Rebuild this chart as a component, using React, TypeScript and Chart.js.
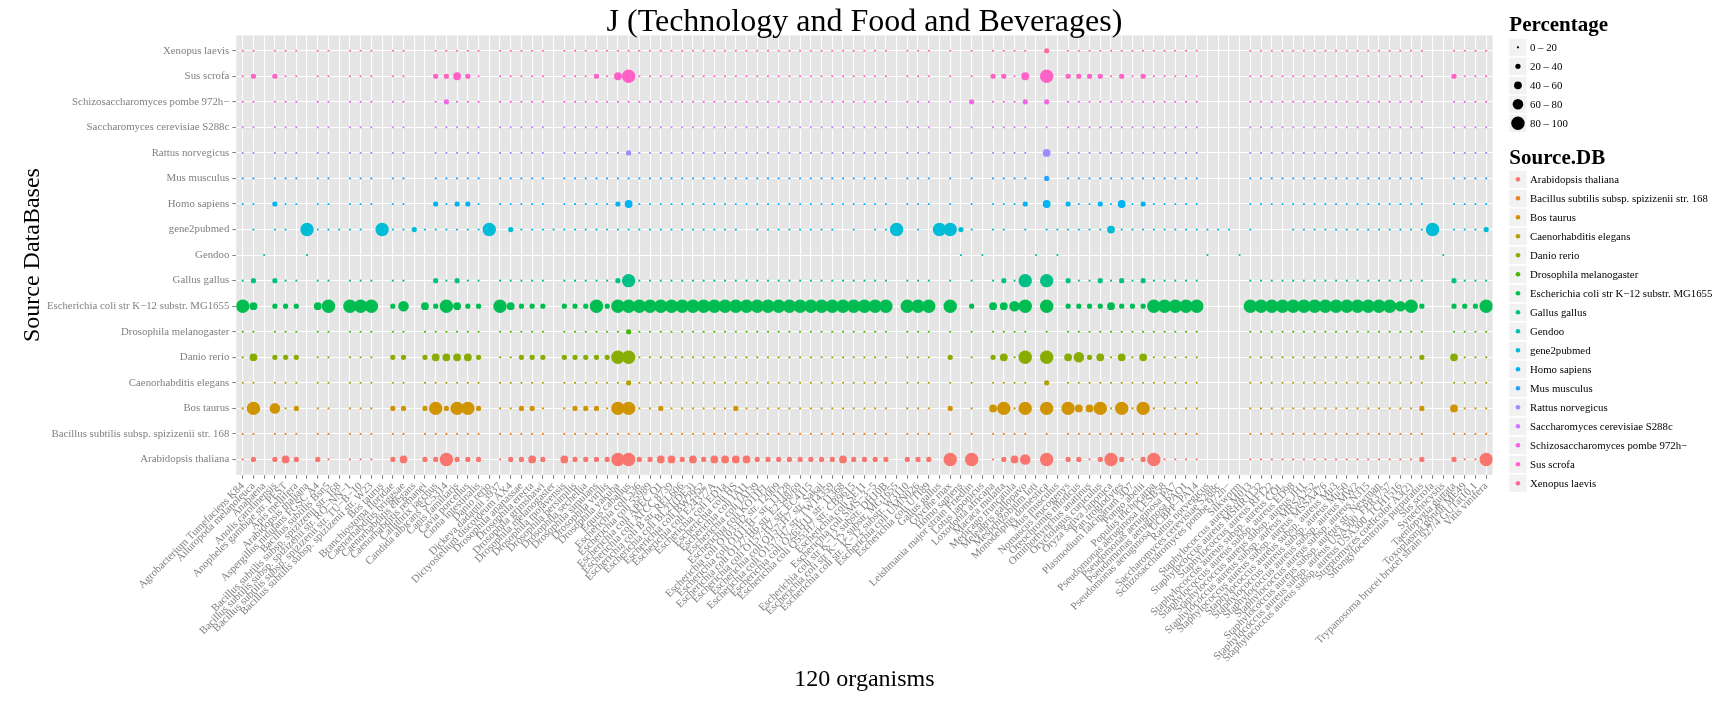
import React, { useEffect, useRef } from 'react';
import { Chart, registerables } from 'chart.js';
Chart.register(...registerables);

const _ = null;

const TITLE = 'J (Technology and Food and Beverages)';
const X_TITLE = '120 organisms';
const Y_TITLE = 'Source DataBases';
const SIZE_TITLE = 'Percentage';
const COLOR_TITLE = 'Source.DB';
const SIZE_LABELS = ['0 – 20', '20 – 40', '40 – 60', '60 – 80', '80 – 100'];

const ORGANISMS = [
  'Agrobacterium Tumefaciens K84', 'Ailuropoda melanoleuca', 'Anabaena', 'Anolis carolinensis',
  'Anopheles gambiae str. PEST', 'Apis mellifera', 'Arabidopsis thaliana', 'Aspergillus nidulans FGSC A4',
  'Bacillus subtilis Bsn5', 'Bacillus subtilis subsp. spizizenii str. 168',
  'Bacillus subtilis subsp. spizizenii str. RO−NN−1', 'Bacillus subtilis subsp. spizizenii str. TU−B−10',
  'Bacillus subtilis subsp. spizizenii str. W23', 'Bos taurus', 'Branchiostoma floridae',
  'Caenorhabditis briggsae', 'Caenorhabditis elegans', 'Caenorhabditis remanei', 'Callithrix jacchus',
  'Candida albicans SC5314', 'Canis familiaris', 'Cavia porcellus', 'Ciona intestinalis', 'Danio rerio',
  'Dickeya dadantii 3937', 'Dictyostelium discoideum AX4', 'Drosophila ananassae', 'Drosophila erecta',
  'Drosophila grimshawi', 'Drosophila melanogaster', 'Drosophila mojavensis', 'Drosophila persimilis',
  'Drosophila sechellia', 'Drosophila simulans', 'Drosophila virilis', 'Drosophila yakuba', 'Equus caballus',
  'Escherichia coli 536', 'Escherichia coli 55989', 'Escherichia coli APEC O1', 'Escherichia coli ATCC 8739',
  'Escherichia coli B str. REL606', 'Escherichia coli BL21(DE3)', 'Escherichia coli BW2952',
  'Escherichia coli E24377A', 'Escherichia coli ED1a', 'Escherichia coli HS', 'Escherichia coli IAI1',
  'Escherichia coli IAI39', 'Escherichia coli KO11FL', 'Escherichia coli O103:H2 str. 12009',
  'Escherichia coli O111:H− str. 11128', 'Escherichia coli O127:H6 str. E2348/69',
  'Escherichia coli O157:H7 str. EC4115', 'Escherichia coli O157:H7 str. Sakai',
  'Escherichia coli O157:H7 str. TW14359', 'Escherichia coli O26:H11 str. 11368',
  'Escherichia coli O55:H7 str. CB9615', 'Escherichia coli SE11', 'Escherichia coli SMS−3−5',
  'Escherichia coli str K−12 substr. DH10B', 'Escherichia coli str K−12 substr. MG1655',
  'Escherichia coli str. K−12 substr. W3110', 'Escherichia coli UMN026', 'Escherichia coli UTI89',
  'Gallus gallus', 'Glycine max', 'Homo sapiens', 'Leishmania major strain Friedlin', 'Lotus japonicus',
  'Loxodonta africana', 'Macaca mulatta', 'Medicago truncatula', 'Meleagris gallopavo', 'Mesorhizobium loti',
  'Monodelphis domestica', 'Mus musculus', 'Nomascus leucogenys', 'Oreochromis niloticus',
  'Ornithorhynchus anatinus', 'Oryctolagus cuniculus', 'Oryza sativa Japonica', 'Pan troglodytes',
  'Plasmodium falciparum 3D7', 'Pongo abelii', 'Populus trichocarpa', 'Pseudomonas aeruginosa LESB58',
  'Pseudomonas aeruginosa PA7', 'Pseudomonas aeruginosa PAO1', 'Pseudomonas aeruginosa UCBPP−PA14',
  'Rattus norvegicus', 'Saccharomyces cerevisiae S288c', 'Schizosaccharomyces pombe 972h−', 'Silkworm',
  'Staphylococcus aureus M013', 'Staphylococcus aureus MSHR1132', 'Staphylococcus aureus RF122',
  'Staphylococcus aureus subsp. aureus COL', 'Staphylococcus aureus subsp. aureus ED98',
  'Staphylococcus aureus subsp. aureus JH1', 'Staphylococcus aureus subsp. aureus MRSA252',
  'Staphylococcus aureus subsp. aureus MSSA476', 'Staphylococcus aureus subsp. aureus Mu3',
  'Staphylococcus aureus subsp. aureus Mu50', 'Staphylococcus aureus subsp. aureus MW2',
  'Staphylococcus aureus subsp. aureus N315', 'Staphylococcus aureus subsp. aureus str. Newman',
  'Staphylococcus aureus subsp. aureus USA300_FPR3757', 'Staphylococcus aureus subsp. aureus USA300_TCH1516',
  'Streptomyces coelicolor A3(2)', 'Strongylocentrotus purpuratus', 'Sus scrofa', 'Synechocystis',
  'Taeniopygia guttata', 'Toxoplasma gondii ME49', 'Trypanosoma brucei brucei strain 927/4 GUTat10.1',
  'Vitis vinifera',
];

const SOURCES = [
  'Arabidopsis thaliana', 'Bacillus subtilis subsp. spizizenii str. 168', 'Bos taurus',
  'Caenorhabditis elegans', 'Danio rerio', 'Drosophila melanogaster',
  'Escherichia coli str K−12 substr. MG1655', 'Gallus gallus', 'Gendoo', 'gene2pubmed', 'Homo sapiens',
  'Mus musculus', 'Rattus norvegicus', 'Saccharomyces cerevisiae S288c', 'Schizosaccharomyces pombe 972h−',
  'Sus scrofa', 'Xenopus laevis',
];

// percentage per organism (117 columns), one array per source DB
const arabidopsisThaliana = [
  5, 30, _, 30, 50, 30, _, 30, 5, _,
  5, 5, 5, _, 30, 50, _, 30, 30, 90,
  30, 30, 30, _, 5, 30, 30, 50, 30, _,
  50, 30, 30, 30, 30, 90, 90, 30, 30, 50,
  50, 30, 50, 30, 50, 50, 50, 50, 30, 30,
  30, 30, 30, 30, 30, 30, 50, 30, 30, 30,
  30, _, 30, 30, 30, _, 90, _, 90, _,
  5, 30, 50, 60, _, 90, _, 30, 30, 5,
  30, 90, 30, 5, 30, 90, 5, 5, 5, 5,
  _, _, _, _, 5, 5, 5, 5, 5, 5,
  5, 5, 5, 5, 5, 5, 5, 5, 5, 5,
  30, _, _, 30, 5, 5, 90,
];
const bacillusSubtilis = [
  5, 5, _, 5, 5, 5, _, 5, 5, _,
  5, 5, 5, _, 5, 5, _, 5, 5, 5,
  5, 5, 5, _, 5, 5, 5, 5, 5, _,
  5, 5, 5, 5, 5, 5, 5, 5, 5, 5,
  5, 5, 5, 5, 5, 5, 5, 5, 5, 5,
  5, 5, 5, 5, 5, 5, 5, 5, 5, 5,
  5, _, 5, 5, 5, _, 5, _, 5, _,
  5, 5, 5, 5, _, 5, _, 5, 5, 5,
  5, 5, 5, 5, 5, 5, 5, 5, 5, 5,
  _, _, _, _, 5, 5, 5, 5, 5, 5,
  5, 5, 5, 5, 5, 5, 5, 5, 5, 5,
  5, _, _, 5, 5, 5, 5,
];
const bosTaurus = [
  5, 90, _, 70, 5, 30, _, 5, 5, _,
  5, 5, 5, _, 30, 30, _, 30, 90, 30,
  90, 90, 30, _, 5, 5, 30, 30, 5, _,
  5, 30, 30, 30, 5, 90, 90, 5, 5, 30,
  5, 5, 5, 5, 5, 5, 30, 5, 5, 5,
  5, 5, 5, 5, 5, 5, 5, 5, 5, 5,
  5, _, 5, 5, 5, _, 30, _, 5, _,
  50, 90, 5, 90, _, 90, _, 90, 50, 50,
  90, 5, 90, 5, 90, 5, 5, 5, 5, 5,
  _, _, _, _, 5, 5, 5, 5, 5, 5,
  5, 5, 5, 5, 5, 5, 5, 5, 5, 5,
  30, _, _, 50, 5, 5, 5,
];
const caenorhabditisElegans = [
  5, 5, _, 5, 5, 5, _, 5, 5, _,
  5, 5, 5, _, 5, 5, _, 5, 5, 5,
  5, 5, 5, _, 5, 5, 5, 5, 5, _,
  5, 5, 5, 5, 5, 5, 30, 5, 5, 5,
  5, 5, 5, 5, 5, 5, 5, 5, 5, 5,
  5, 5, 5, 5, 5, 5, 5, 5, 5, 5,
  5, _, 5, 5, 5, _, 5, _, 5, _,
  5, 5, 5, 5, _, 30, _, 5, 5, 5,
  5, 5, 5, 5, 5, 5, 5, 5, 5, 5,
  _, _, _, _, 5, 5, 5, 5, 5, 5,
  5, 5, 5, 5, 5, 5, 5, 5, 5, 5,
  5, _, _, 5, 5, 5, 5,
];
const danioRerio = [
  5, 50, _, 30, 30, 30, _, 5, 5, _,
  5, 5, 5, _, 30, 30, _, 30, 50, 50,
  50, 50, 30, _, 5, 5, 30, 30, 30, _,
  30, 30, 30, 30, 30, 80, 90, 5, 5, 5,
  5, 5, 5, 5, 5, 5, 5, 5, 5, 5,
  5, 5, 5, 5, 5, 5, 5, 5, 5, 5,
  5, _, 5, 5, 5, _, 30, _, 5, _,
  30, 50, 5, 80, _, 90, _, 50, 60, 30,
  50, 5, 50, 5, 50, 5, 5, 5, 5, 5,
  _, _, _, _, 5, 5, 5, 5, 5, 5,
  5, 5, 5, 5, 5, 5, 5, 5, 5, 5,
  30, _, _, 50, 5, 5, 5,
];
const drosophilaMelanogaster = [
  5, 5, _, 5, 5, 5, _, 5, 5, _,
  5, 5, 5, _, 5, 5, _, 5, 5, 5,
  5, 5, 5, _, 5, 5, 5, 5, 5, _,
  5, 5, 5, 5, 5, 5, 30, 5, 5, 5,
  5, 5, 5, 5, 5, 5, 5, 5, 5, 5,
  5, 5, 5, 5, 5, 5, 5, 5, 5, 5,
  5, _, 5, 5, 5, _, 5, _, 5, _,
  5, 5, 5, 5, _, 5, _, 5, 5, 5,
  5, 5, 5, 5, 5, 5, 5, 5, 5, 5,
  _, _, _, _, 5, 5, 5, 5, 5, 5,
  5, 5, 5, 5, 5, 5, 5, 5, 5, 5,
  5, _, _, 5, 5, 5, 5,
];
const escherichiaColi = [
  90, 50, _, 30, 30, 30, _, 50, 90, _,
  90, 90, 90, _, 30, 70, _, 50, 30, 90,
  50, 30, 30, _, 90, 50, 30, 30, 30, _,
  30, 30, 30, 90, 30, 90, 90, 90, 90, 90,
  90, 90, 90, 90, 90, 90, 90, 90, 90, 90,
  90, 90, 90, 90, 90, 90, 90, 90, 90, 90,
  90, _, 90, 90, 90, _, 90, _, 30, _,
  50, 50, 70, 90, _, 90, _, 30, 30, 30,
  30, 50, 30, 30, 30, 85, 90, 90, 90, 90,
  _, _, _, _, 90, 90, 90, 90, 90, 90,
  90, 90, 90, 90, 90, 90, 90, 90, 70, 90,
  30, _, _, 30, 30, 30, 90,
];
const gallusGallus = [
  5, 30, _, 30, 5, 5, _, 5, 5, _,
  5, 5, 5, _, 5, 5, _, _, 30, 5,
  30, 5, 5, _, 5, 5, 5, 5, 5, _,
  5, 5, 5, 5, 5, 30, 90, 5, 5, 5,
  5, 5, 5, 5, 5, 5, 5, 5, 5, 5,
  5, 5, 5, 5, 5, 5, 5, 5, 5, 5,
  5, _, 5, 5, 5, _, 5, _, 5, _,
  5, 30, 5, 80, _, 90, _, 30, 5, 5,
  30, 5, 30, 5, 30, 5, 5, 5, 5, 5,
  _, _, _, _, 5, 5, 5, 5, 5, 5,
  5, 5, 5, 5, 5, 5, 5, 5, 5, 5,
  5, _, _, 30, 5, 5, 5,
];
const gendoo = [
  _, _, 2, _, _, _, 2, _, _, _,
  _, _, _, _, _, _, _, _, _, _,
  _, _, _, _, _, _, _, _, _, _,
  _, _, _, _, _, _, _, _, _, _,
  _, _, _, _, _, _, _, _, _, _,
  _, _, _, _, _, _, _, _, _, _,
  _, _, _, _, _, _, _, 2, _, 2,
  _, _, _, _, 2, _, 2, _, _, _,
  _, _, _, _, _, _, _, _, _, _,
  2, _, _, 2, _, _, _, _, _, _,
  _, _, _, _, _, _, _, _, _, _,
  _, _, 2, _, _, _, _,
];
const gene2pubmed = [
  _, 5, _, 5, 5, _, 90, 5, 5, 5,
  5, 5, _, 90, 5, 5, 30, 5, 5, 5,
  5, 5, 5, 90, _, 30, 5, 5, 5, 5,
  5, 5, 5, 5, 5, 5, 5, 5, 5, 5,
  5, 5, 5, 5, 5, 5, 5, _, 5, 5,
  5, 5, 5, 5, 5, 5, _, 5, _, 5,
  5, 90, _, 5, _, 90, 90, 30, 5, _,
  5, 5, _, 5, _, 5, 5, 5, 5, 5,
  5, 50, 5, 5, 5, 5, 5, 5, 5, 5,
  5, 5, 5, _, 5, _, _, _, 5, 5,
  5, 5, 5, 5, 5, 5, 5, 5, 5, 5,
  5, 90, _, 5, 5, 5, 30,
];
const homoSapiens = [
  5, 5, _, 30, 5, 5, _, 5, 5, _,
  5, 5, 5, _, 5, 5, _, _, 30, 5,
  30, 30, 5, _, 5, 5, 5, 5, 5, _,
  5, 5, 5, 5, 5, 30, 50, 5, 5, 5,
  5, 5, 5, 5, 5, 5, 5, 5, 5, 5,
  5, 5, 5, 5, 5, 5, 5, 5, 5, 5,
  5, _, 5, 5, 5, _, 5, _, 5, _,
  5, 5, 5, 30, _, 50, _, 30, 5, 5,
  30, 5, 50, 5, 30, 5, 5, 5, 5, 5,
  _, _, _, _, 5, 5, 5, 5, 5, 5,
  5, 5, 5, 5, 5, 5, 5, 5, 5, 5,
  5, _, _, 5, 5, 5, 5,
];
const musMusculus = [
  5, 5, _, 5, 5, 5, _, 5, 5, _,
  5, 5, 5, _, 5, 5, _, _, 5, 5,
  5, 5, 5, _, 5, 5, 5, 5, 5, _,
  5, 5, 5, 5, 5, 5, 5, 5, 5, 5,
  5, 5, 5, 5, 5, 5, 5, 5, 5, 5,
  5, 5, 5, 5, 5, 5, 5, 5, 5, 5,
  5, _, 5, 5, 5, _, 5, _, 5, _,
  5, 5, 5, 5, _, 30, _, 5, 5, 5,
  5, 5, 5, 5, 5, 5, 5, 5, 5, 5,
  _, _, _, _, 5, 5, 5, 5, 5, 5,
  5, 5, 5, 5, 5, 5, 5, 5, 5, 5,
  5, _, _, 5, 5, 5, 5,
];
const rattusNorvegicus = [
  5, 5, _, 5, 5, 5, _, 5, 5, _,
  5, 5, 5, _, 5, 5, _, _, 5, 5,
  5, 5, 5, _, 5, 5, 5, 5, 5, _,
  5, 5, 5, 5, 5, 5, 30, 5, 5, 5,
  5, 5, 5, 5, 5, 5, 5, 5, 5, 5,
  5, 5, 5, 5, 5, 5, 5, 5, 5, 5,
  5, _, 5, 5, 5, _, 5, _, 5, _,
  5, 5, 5, 5, _, 50, _, 5, 5, 5,
  5, 5, 5, 5, 5, 5, 5, 5, 5, 5,
  _, _, _, _, 5, 5, 5, 5, 5, 5,
  5, 5, 5, 5, 5, 5, 5, 5, 5, 5,
  5, _, _, 5, 5, 5, 5,
];
const saccharomycesCerevisiae = [
  5, 5, _, 5, 5, 5, _, 5, 5, _,
  5, 5, 5, _, 5, 5, _, _, 5, 5,
  5, 5, 5, _, 5, 5, 5, 5, 5, _,
  5, 5, 5, 5, 5, 5, 5, 5, 5, 5,
  5, 5, 5, 5, 5, 5, 5, 5, 5, 5,
  5, 5, 5, 5, 5, 5, 5, 5, 5, 5,
  5, _, 5, 5, 5, _, 5, _, 5, _,
  5, 5, 5, 5, _, 5, _, 5, 5, 5,
  5, 5, 5, 5, 5, 5, 5, 5, 5, 5,
  _, _, _, _, 5, 5, 5, 5, 5, 5,
  5, 5, 5, 5, 5, 5, 5, 5, 5, 5,
  5, _, _, 5, 5, 5, 5,
];
const schizosaccharomycesPombe = [
  5, 5, _, 5, 5, 5, _, 5, 5, _,
  5, 5, 5, _, 5, 5, _, _, 5, 30,
  5, 5, 5, _, 5, 5, 5, 5, 5, _,
  5, 5, 5, 5, 5, 5, 5, 5, 5, 5,
  5, 5, 5, 5, 5, 5, 5, 5, 5, 5,
  5, 5, 5, 5, 5, 5, 5, 5, 5, 5,
  5, _, 5, 5, 5, _, 5, _, 30, _,
  5, 5, 5, 30, _, 30, _, 5, 5, 5,
  5, 5, 5, 5, 5, 5, 5, 5, 5, 5,
  _, _, _, _, 5, 5, 5, 5, 5, 5,
  5, 5, 5, 5, 5, 5, 5, 5, 5, 5,
  5, _, _, 5, 5, 5, 5,
];
const susScrofa = [
  5, 30, _, 30, 5, 5, _, 5, 5, _,
  5, 5, 5, _, 5, 5, _, _, 30, 30,
  50, 30, 5, _, 5, 5, 5, 5, 5, _,
  5, 5, 5, 30, 5, 50, 90, 5, 5, 5,
  5, 5, 5, 5, 5, 5, 5, 5, 5, 5,
  5, 5, 5, 5, 5, 5, 5, 5, 5, 5,
  5, _, 5, 5, 5, _, 5, _, 5, _,
  30, 30, 5, 50, _, 90, _, 30, 30, 30,
  30, 5, 30, 5, 30, 5, 5, 5, 5, 5,
  _, _, _, _, 5, 5, 5, 5, 5, 5,
  5, 5, 5, 5, 5, 5, 5, 5, 5, 5,
  5, _, _, 30, 5, 5, 5,
];
const xenopusLaevis = [
  5, 5, _, 5, 5, 5, _, 5, 5, _,
  5, 5, 5, _, 5, 5, _, _, 5, 5,
  5, 5, 5, _, 5, 5, 5, 5, 5, _,
  5, 5, 5, 5, 5, 5, 5, 5, 5, 5,
  5, 5, 5, 5, 5, 5, 5, 5, 5, 5,
  5, 5, 5, 5, 5, 5, 5, 5, 5, 5,
  5, _, 5, 5, 5, _, 5, _, 5, _,
  5, 5, 5, 5, _, 30, _, 5, 5, 5,
  5, 5, 5, 5, 5, 5, 5, 5, 5, 5,
  _, _, _, _, 5, 5, 5, 5, 5, 5,
  5, 5, 5, 5, 5, 5, 5, 5, 5, 5,
  5, _, _, 5, 5, 5, 5,
];

const SERIES = [
  arabidopsisThaliana, bacillusSubtilis, bosTaurus, caenorhabditisElegans, danioRerio,
  drosophilaMelanogaster, escherichiaColi, gallusGallus, gendoo, gene2pubmed, homoSapiens,
  musMusculus, rattusNorvegicus, saccharomycesCerevisiae, schizosaccharomycesPombe, susScrofa, xenopusLaevis,
];

// ---- styling ----
const SERIF = '"Liberation Serif", "Times New Roman", serif';
const RADII = [1.1, 2.6, 3.9, 5.3, 6.7];
const sizeBin = (v: number) => Math.min(4, Math.max(0, Math.floor(v / 20)));

function hcl(h: number, c: number, l: number): string {
  const hr = (h * Math.PI) / 180;
  const U = c * Math.cos(hr), V = c * Math.sin(hr);
  const XN = 95.047, YN = 100, ZN = 108.883;
  const Y = l > 7.999592 ? YN * Math.pow((l + 16) / 116, 3) : (YN * l) / 903.3;
  const t = XN + 15 * YN + 3 * ZN;
  const un = (4 * XN) / t, vn = (9 * YN) / t;
  const u = U / (13 * l) + un, v = V / (13 * l) + vn;
  const X = (9 * Y * u) / (4 * v);
  const Z = -X / 3 - 5 * Y + (3 * Y) / v;
  const g = (x: number) => {
    const y = x > 0.00304 ? 1.055 * Math.pow(x, 1 / 2.4) - 0.055 : 12.92 * x;
    return Math.round(255 * Math.min(1, Math.max(0, y)));
  };
  const r = g((3.240479 * X - 1.53715 * Y - 0.498535 * Z) / 100);
  const gg = g((-0.969256 * X + 1.875992 * Y + 0.041556 * Z) / 100);
  const b = g((0.055648 * X - 0.204043 * Y + 1.057311 * Z) / 100);
  return `rgb(${r},${gg},${b})`;
}
const COLORS = SOURCES.map((_s, k) => hcl(15 + (360 / SOURCES.length) * k, 100, 65));

const W = 1721, H = 701;
const PANEL = { left: 236.3, right: 1492.6, top: 35.4, bottom: 474.8 };

const decorPlugin = {
  id: 'decor',
  beforeDraw(chart: any) {
    const { ctx, chartArea: a } = chart;
    ctx.save();
    ctx.fillStyle = '#ffffff';
    ctx.fillRect(0, 0, chart.width, chart.height);
    ctx.fillStyle = '#E5E5E5';
    ctx.fillRect(a.left, a.top, a.right - a.left, a.bottom - a.top);
    ctx.restore();
  },
  afterDraw(chart: any) {
    const { ctx, chartArea: a } = chart;
    const cx = (a.left + a.right) / 2;
    const cy = (a.top + a.bottom) / 2;
    ctx.save();
    ctx.fillStyle = '#000';
    ctx.textAlign = 'center';
    ctx.textBaseline = 'alphabetic';
    ctx.font = `32px ${SERIF}`;
    ctx.fillText(TITLE, cx, 31);
    ctx.font = `24px ${SERIF}`;
    ctx.textBaseline = 'middle';
    ctx.fillText(X_TITLE, cx, 680);
    ctx.save();
    ctx.translate(33, cy);
    ctx.rotate(-Math.PI / 2);
    ctx.fillText(Y_TITLE, 0, 0);
    ctx.restore();

    // legends
    const lx = 1509.3, kw = 17.3, tx = 1530;
    ctx.textAlign = 'left';
    ctx.textBaseline = 'alphabetic';
    ctx.font = `bold 21px ${SERIF}`;
    ctx.fillText(SIZE_TITLE, lx, 31);
    ctx.font = `10.8px ${SERIF}`;
    SIZE_LABELS.forEach((lab, k) => {
      const y = 47.3 + 19 * k;
      ctx.fillStyle = '#F2F2F2';
      ctx.fillRect(lx, y - kw / 2, kw, kw);
      ctx.fillStyle = '#000';
      ctx.beginPath();
      ctx.arc(lx + kw / 2, y, RADII[k], 0, Math.PI * 2);
      ctx.fill();
      ctx.textBaseline = 'middle';
      ctx.fillText(lab, tx, y + 0.5);
    });
    ctx.textBaseline = 'alphabetic';
    ctx.font = `bold 21px ${SERIF}`;
    ctx.fillText(COLOR_TITLE, lx, 164.3);
    ctx.font = `10.8px ${SERIF}`;
    SOURCES.forEach((lab, k) => {
      const y = 179.3 + 19 * k;
      ctx.fillStyle = '#F2F2F2';
      ctx.fillRect(lx, y - kw / 2, kw, kw);
      ctx.fillStyle = COLORS[k];
      ctx.beginPath();
      ctx.arc(lx + kw / 2, y, 2.3, 0, Math.PI * 2);
      ctx.fill();
      ctx.fillStyle = '#000';
      ctx.textBaseline = 'middle';
      ctx.fillText(lab, tx, y + 0.5);
    });
    ctx.restore();
  },
};

export default function App() {
  const ref = useRef<HTMLCanvasElement | null>(null);
  useEffect(() => {
    document.body.style.margin = '0';
    const canvas = ref.current;
    if (!canvas) return;
    const datasets = SERIES.map((vals, s) => ({
      label: SOURCES[s],
      data: vals
        .map((v, i) => (v == null ? null : { x: i, y: s, v }))
        .filter((p) => p !== null),
      backgroundColor: COLORS[s],
      borderWidth: 0,
      pointRadius: (c: any) => RADII[sizeBin(c.raw ? c.raw.v : 0)],
      pointHoverRadius: (c: any) => RADII[sizeBin(c.raw ? c.raw.v : 0)],
    }));
    const chart = new Chart(canvas, {
      type: 'scatter',
      data: { datasets } as any,
      plugins: [decorPlugin],
      options: {
        responsive: false,
        animation: false,
        events: [],
        layout: {
          padding: { top: PANEL.top, right: W - PANEL.right, bottom: 0, left: 0 },
        },
        plugins: { legend: { display: false }, tooltip: { enabled: false }, title: { display: false } },
        scales: {
          x: {
            type: 'linear',
            min: -0.6,
            max: ORGANISMS.length - 1 + 0.6,
            afterBuildTicks: (sc: any) => {
              sc.ticks = ORGANISMS.map((_o, i) => ({ value: i }));
            },
            afterFit: (sc: any) => {
              sc.height = H - PANEL.bottom;
            },
            ticks: {
              autoSkip: false,
              minRotation: 45,
              maxRotation: 45,
              padding: 1,
              color: '#7f7f7f',
              font: { family: SERIF, size: 10.8 },
              callback: (v: any) => ORGANISMS[v] ?? '',
            },
            grid: { color: '#ffffff', lineWidth: 1.1, tickColor: '#7f7f7f', tickLength: 4, tickWidth: 1 },
            border: { display: false },
          },
          y: {
            type: 'linear',
            min: -0.6,
            max: SOURCES.length - 1 + 0.6,
            afterBuildTicks: (sc: any) => {
              sc.ticks = SOURCES.map((_o, i) => ({ value: i }));
            },
            afterFit: (sc: any) => {
              sc.width = PANEL.left;
            },
            ticks: {
              autoSkip: false,
              padding: 3,
              color: '#7f7f7f',
              font: { family: SERIF, size: 10.8 },
              callback: (v: any) => SOURCES[v] ?? '',
            },
            grid: { color: '#ffffff', lineWidth: 1.1, tickColor: '#7f7f7f', tickLength: 4, tickWidth: 1 },
            border: { display: false },
          },
        },
      } as any,
    });
    return () => chart.destroy();
  }, []);
  return (
    <div style={{ width: W, height: H, position: 'relative' }}>
      <canvas ref={ref} width={W} height={H} style={{ display: 'block', width: W, height: H }} />
    </div>
  );
}
